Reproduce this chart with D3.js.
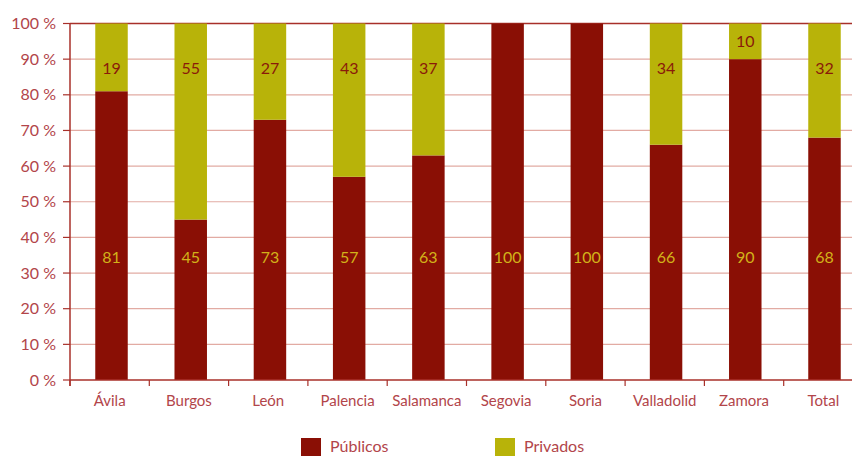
<!DOCTYPE html>
<html><head><meta charset="utf-8">
<script src="https://cdn.jsdelivr.net/npm/d3@7"></script>
<style>body{margin:0;background:#fff}svg{display:block}</style>
</head><body><svg id="c" width="852" height="457"></svg>
<script>
const categories = ["Ávila","Burgos","León","Palencia","Salamanca","Segovia","Soria","Valladolid","Zamora","Total"];
const publicos = [81,45,73,57,63,100,100,66,90,68];
const privados = [19,55,27,43,37,0,0,34,10,32];
const yTicks = [0,10,20,30,40,50,60,70,80,90,100];
const seriesNames = ["Públicos","Privados"];

const colPub = "#8a0f05", colPriv = "#b8b309", axisCol = "#a8302a", gridCol = "#e2aba3", textCol = "#b2454a";
const font = "Lato, 'Open Sans', sans-serif";
const svg = d3.select("#c");
const x = d3.scaleBand().domain(categories).range([70, 863]).paddingInner(0.59).paddingOuter(0.3);
const xb = d3.scaleBand().domain(categories).range([70, 863]);
const y = d3.scaleLinear().domain([0,100]).range([380, 23.5]);

// gridlines
svg.append("g").selectAll("line").data(yTicks.filter(d=>d>0&&d<100)).join("line")
  .attr("x1",70).attr("x2",852).attr("y1",d=>y(d)).attr("y2",d=>y(d))
  .attr("stroke",gridCol).attr("stroke-width",1.2);
svg.append("line").attr("x1",70).attr("x2",852).attr("y1",y(100)).attr("y2",y(100)).attr("stroke",axisCol).attr("stroke-width",1.5);

// bars
const g = svg.append("g");
categories.forEach((c,i)=>{
  const bx = x(c)+1.5, bw = x.bandwidth();
  g.append("rect").attr("x",bx).attr("width",bw).attr("y",y(publicos[i])).attr("height",y(0)-y(publicos[i])).attr("fill",colPub);
  if (privados[i]>0) g.append("rect").attr("x",bx).attr("width",bw).attr("y",y(100)).attr("height",y(publicos[i])-y(100)).attr("fill",colPriv);
  g.append("text").attr("x",bx+bw/2).attr("y",y(34.5)).attr("dy","0.35em").attr("text-anchor","middle")
    .attr("font-family",font).attr("font-size",16).attr("fill","#d2b21a").text(publicos[i]);
  if (privados[i]>0){
    const ly = privados[i] < 15 ? (100 + publicos[i])/2 : 87.5;
    g.append("text").attr("x",bx+bw/2).attr("y",y(ly)).attr("dy","0.35em").attr("text-anchor","middle")
      .attr("font-family",font).attr("font-size",16).attr("fill","#8a1a0a").text(privados[i]);
  }
});

// y axis
const ya = svg.append("g");
ya.append("line").attr("x1",70).attr("x2",70).attr("y1",y(100)).attr("y2",y(0)+6).attr("stroke",axisCol).attr("stroke-width",1.5);
ya.selectAll("line.t").data(yTicks).join("line").attr("class","t")
  .attr("x1",63).attr("x2",70).attr("y1",d=>y(d)).attr("y2",d=>y(d)).attr("stroke",axisCol).attr("stroke-width",1.2);
ya.selectAll("text").data(yTicks).join("text")
  .attr("x",56).attr("y",d=>y(d)).attr("dy","0.35em").attr("text-anchor","end")
  .attr("font-family",font).attr("font-size",16).attr("fill",textCol).text(d=>d+" %");

// x axis
const xa = svg.append("g");
xa.append("line").attr("x1",70).attr("x2",852).attr("y1",y(0)).attr("y2",y(0)).attr("stroke",axisCol).attr("stroke-width",1.5);
xa.selectAll("line.t").data(categories).join("line").attr("class","t")
  .attr("x1",d=>xb(d)).attr("x2",d=>xb(d)).attr("y1",y(0)).attr("y2",y(0)+6).attr("stroke",axisCol).attr("stroke-width",1.2);
xa.selectAll("text").data(categories).join("text")
  .attr("x",d=>xb(d)+xb.bandwidth()/2).attr("y",y(0)+26).attr("text-anchor","middle")
  .attr("font-family",font).attr("font-size",15).attr("fill",textCol).text(d=>d);

// legend
const leg = svg.append("g");
const lx = [301, 495], lc = [colPub, colPriv];
seriesNames.forEach((s,i)=>{
  leg.append("rect").attr("x",lx[i]).attr("y",438).attr("width",20).attr("height",18).attr("fill",lc[i]);
  leg.append("text").attr("x",lx[i]+29).attr("y",452).attr("font-family",font).attr("font-size",16).attr("fill",textCol).text(s);
});
</script></body></html>
